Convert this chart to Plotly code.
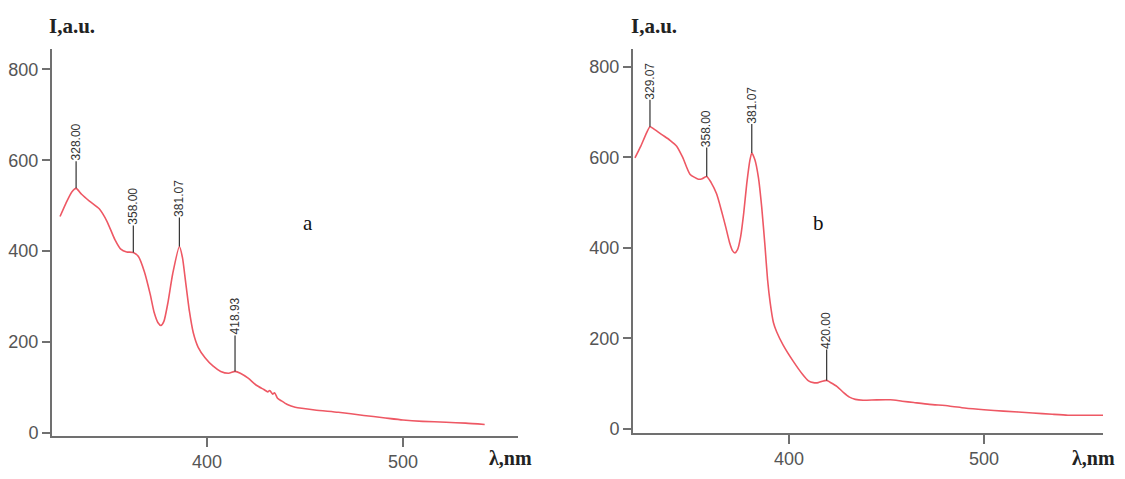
import numpy as np
import plotly.graph_objects as go

# ---------------- data ----------------
wl_a = [325, 328, 331, 333.2, 336, 340, 345, 349, 353, 356, 359, 362.4, 365, 368, 371, 373,
        375, 376.5, 378, 380, 382.5, 385.9, 387.5, 389, 391, 393, 395.5, 399, 403, 407, 411,
        414.3, 417, 421, 425, 429, 431, 432, 433.5, 434.5, 436, 438, 441, 445, 455, 467,
        480, 490, 500, 510, 522, 532, 541.7]
int_a = [476, 505, 530, 538, 525, 510, 493, 465, 425, 404, 398, 397, 388, 355, 305, 265,
         242, 236, 245, 285, 350, 410, 385, 335, 268, 220, 188, 165, 147, 135, 131,
         135, 131, 120, 105, 95, 90, 93, 85, 88, 76, 70, 62, 56, 50, 45,
         38, 33, 28, 25, 23, 21, 18]

wl_b = [321, 324, 326.5, 328.7, 331, 335, 339, 342.4, 345.5, 349.2, 353.5, 355.5, 357.8, 360,
        362.9, 365.5, 367.5, 369.5, 371, 372.3, 373.6, 375.2, 376.8, 378.3, 380, 380.9, 382.5,
        384.3, 386, 387.7, 389, 390.3, 392, 393.7, 397, 402.2, 407, 410, 412.5, 415, 417, 419.3,
        421, 424.5, 428, 431, 434, 438, 445, 452, 458, 464, 472, 482, 490, 500, 510, 525,
        535, 543, 552, 561]
int_b = [599, 625, 650, 668, 662, 650, 638, 625, 600, 563, 552, 553, 558, 545,
         519, 480, 447, 412, 394, 389, 396, 425, 478, 541, 595, 610, 595,
         556, 490, 403, 330, 280, 235, 214, 185, 149, 120, 106, 102, 102, 105, 107,
         103, 94, 80, 70, 65, 63, 64, 64, 61, 58, 54, 50.5, 46, 42, 39, 35,
         32, 30, 30, 30]

peaks_a_x = [333.2, 362.4, 385.9, 414.3]
peaks_a_lbl = ["328.00", "358.00", "381.07", "418.93"]
peaks_b_x = [328.7, 357.8, 380.9, 419.3]
peaks_b_lbl = ["329.07", "358.00", "381.07", "420.00"]

x_ticks = [400, 500]
y_ticks = [0, 200, 400, 600, 800]

# ---------------- styling ----------------
W, H = 1125, 479
OFF = 8  # page body margin
LINE = "rgb(238,88,100)"
AX = "#707070"
TICKFONT = dict(family="Arial, Liberation Sans, sans-serif", size=18, color="#555")
SERIF = "Liberation Serif, Times New Roman, serif"

def px_x(p):
    return (p - OFF) / W

def px_y(p):
    return 1 - (p - OFF) / H

fig = go.Figure()
fig.add_trace(go.Scatter(x=wl_a, y=int_a, mode="lines", line=dict(color=LINE, width=1.6, shape="spline", smoothing=0.6),
                         xaxis="x", yaxis="y", showlegend=False, hoverinfo="skip"))
fig.add_trace(go.Scatter(x=wl_b, y=int_b, mode="lines", line=dict(color=LINE, width=1.6, shape="spline", smoothing=0.6),
                         xaxis="x2", yaxis="y2", showlegend=False, hoverinfo="skip"))

common_x = dict(showline=True, linecolor=AX, linewidth=2, ticks="outside", ticklen=9, tickwidth=1.5,
                tickcolor=AX, showgrid=False, zeroline=False, tickvals=x_ticks, tickfont=TICKFONT)
common_y = dict(showline=True, linecolor=AX, linewidth=2, ticks="outside", ticklen=8, tickwidth=1.5,
                tickcolor=AX, showgrid=False, zeroline=False, tickvals=y_ticks, tickfont=TICKFONT)

fig.update_layout(
    width=W, height=H,
    margin=dict(l=0, r=0, t=0, b=0),
    paper_bgcolor="white", plot_bgcolor="white",
    xaxis=dict(domain=[px_x(52), px_x(518)], range=[320.9, 558.7], anchor="y", **common_x),
    yaxis=dict(domain=[px_y(442), px_y(50)], range=[-6.5, 844], anchor="x", **common_y),
    xaxis2=dict(domain=[px_x(633), px_x(1103)], range=[320, 561], anchor="y2", **common_x),
    yaxis2=dict(domain=[px_y(439), px_y(50)], range=[-8.7, 839], anchor="x2", **common_y),
)

anns = []
sticks_a = [25, 25, 27, 34]
sticks_b = [25, 27, 27, 29]
for xs, lbls, sticks, wl, it, xr, yr in [
    (peaks_a_x, peaks_a_lbl, sticks_a, wl_a, int_a, "x", "y"),
    (peaks_b_x, peaks_b_lbl, sticks_b, wl_b, int_b, "x2", "y2"),
]:
    for px_, lb, st in zip(xs, lbls, sticks):
        py_ = float(np.interp(px_, wl, it))
        anns.append(dict(x=px_, y=py_, xref=xr, yref=yr, text=lb, textangle=-90,
                         showarrow=True, arrowhead=0, arrowwidth=1.2, arrowcolor="#333",
                         ax=0, ay=-(st + 21), standoff=0, borderpad=0,
                         font=dict(family="Arial, Liberation Sans, sans-serif", size=12, color="#333")))

# axis titles and panel letters
for x0 in (47, 629):
    anns.append(dict(x=px_x(x0), y=px_y(26), xref="paper", yref="paper", text="<b>I,a.u.</b>",
                     showarrow=False, xanchor="left", yanchor="middle",
                     font=dict(family=SERIF, size=21, color="#222")))
for x0 in (487, 1070):
    anns.append(dict(x=px_x(x0), y=px_y(465), xref="paper", yref="paper", text="<b>λ,nm</b>",
                     showarrow=False, xanchor="left", yanchor="middle",
                     font=dict(family=SERIF, size=20, color="#222")))
for x0, t in ((308, "a"), (818, "b")):
    anns.append(dict(x=px_x(x0), y=px_y(226), xref="paper", yref="paper", text=t,
                     showarrow=False, xanchor="center", yanchor="middle",
                     font=dict(family=SERIF, size=21, color="#111")))

fig.update_layout(annotations=anns)
fig.write_html("out.html")
